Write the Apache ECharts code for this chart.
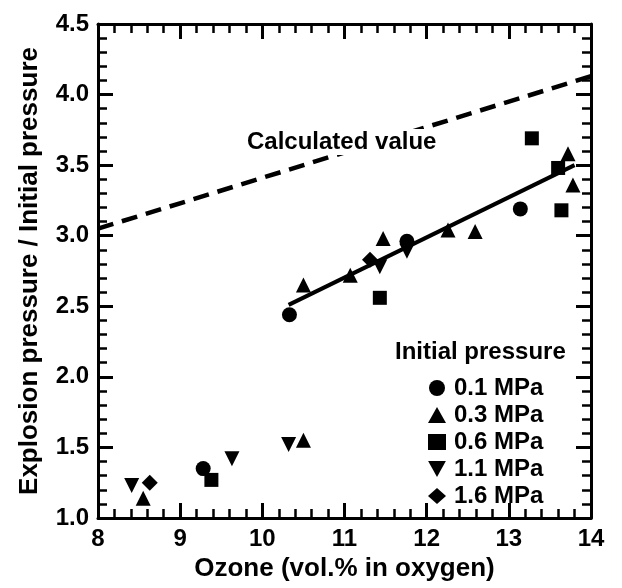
<!DOCTYPE html>
<html>
<head>
<meta charset="utf-8">
<script src="https://cdn.jsdelivr.net/npm/echarts@6/dist/echarts.min.js"></script>
<style>html,body{margin:0;padding:0;background:#fff}.chart{width:622px;height:588px;float:left}</style>
</head>
<body>
<div class="chart" id="chart0"></div>
<script>
// ---- data ----
var xTicks = [8, 9, 10, 11, 12, 13, 14];
var yTicks = ['1.0', '1.5', '2.0', '2.5', '3.0', '3.5', '4.0', '4.5'];
var seriesNames = ['0.1 MPa', '0.3 MPa', '0.6 MPa', '1.1 MPa', '1.6 MPa'];
var p01 = [[9.28, 1.35], [10.33, 2.44], [11.76, 2.96], [13.14, 3.19]];
var p03 = [[8.55, 1.14], [10.50, 1.55], [10.50, 2.65], [11.07, 2.72], [11.47, 2.98], [12.26, 3.04], [12.59, 3.03], [13.72, 3.58], [13.78, 3.36]];
var p06 = [[9.38, 1.27], [11.43, 2.56], [13.28, 3.69], [13.60, 3.48], [13.64, 3.18]];
var p11 = [[8.41, 1.23], [9.63, 1.42], [10.32, 1.52], [11.43, 2.78], [11.76, 2.89]];
var p16 = [[8.63, 1.25], [11.31, 2.83]];
var fitLine = [[10.32, 2.51], [13.80, 3.50]];
var calcLine = [[8.0, 3.05], [14.0, 4.13]];
var calcLabel = 'Calculated value';
var legendTitle = 'Initial pressure';
var xTitle = 'Ozone (vol.% in oxygen)';
var yTitle = 'Explosion pressure / Initial pressure';

var FONT = '"Liberation Sans", Arial, sans-serif';
var downTri = 'path://M0,0 L10,0 L5,9 Z';
var symbols = ['circle', 'triangle', 'rect', downTri, 'diamond'];
var sizes = [15, 15, 14, 15, 16];
var dataSets = [p01, p03, p06, p11, p16];

function axisCommon(isX, show, pos) {
  var o = {
    type: 'value', position: pos,
    min: isX ? 8 : 1, max: isX ? 14 : 4.5, interval: isX ? 1 : 0.5,
    axisLine: {show: true, onZero: false, lineStyle: {color: '#000', width: 3}},
    axisTick: {show: true, inside: true, length: 15, lineStyle: {color: '#000', width: 3}},
    minorTick: {show: true, splitNumber: 5, length: 9, lineStyle: {color: '#000', width: 2.5}},
    splitLine: {show: false},
    axisLabel: {show: show, margin: 9, color: '#000', fontSize: 24, fontWeight: 'bold', fontFamily: FONT}
  };
  if (show) {
    o.axisLabel.formatter = function (v) { return isX ? String(xTicks[Math.round(v - 8)]) : yTicks[Math.round((v - 1) / 0.5)]; };
  }
  return o;
}
var xb = axisCommon(true, true, 'bottom');
xb.name = xTitle; xb.nameLocation = 'middle'; xb.nameGap = 36;
xb.nameTextStyle = {color: '#000', fontSize: 26, fontWeight: 'bold', fontFamily: FONT};
var xt = axisCommon(true, false, 'top');
var yl = axisCommon(false, true, 'left');
yl.name = yTitle; yl.nameLocation = 'middle'; yl.nameGap = 55;
yl.nameTextStyle = {color: '#000', fontSize: 26, fontWeight: 'bold', fontFamily: FONT};
var yr = axisCommon(false, false, 'right');

var series = [];
for (var i = 0; i < seriesNames.length; i++) {
  series.push({
    name: seriesNames[i], type: 'scatter',
    symbol: symbols[i], symbolSize: sizes[i],
    itemStyle: {color: '#000', opacity: 1},
    data: dataSets[i]
  });
}
series.push({type: 'line', data: fitLine, symbol: 'none', lineStyle: {color: '#000', width: 4}});
series.push({type: 'line', data: calcLine, symbol: 'none', lineStyle: {color: '#000', width: 4.5, type: [16, 9]}});

var chart = echarts.init(document.getElementById('chart0'), null, {renderer: 'canvas'});
chart.setOption({
  animation: false,
  grid: {left: 98, right: 31, top: 24, bottom: 70},
  xAxis: [xb, xt],
  yAxis: [yl, yr],
  legend: {
    data: seriesNames.map(function (n, i) { return {name: n, icon: symbols[i]}; }),
    orient: 'vertical', left: 423, top: 371,
    itemWidth: 18, itemHeight: 16, itemGap: 3,
    itemStyle: {opacity: 1},
    textStyle: {color: '#000', fontSize: 24, fontWeight: 'bold', fontFamily: FONT, lineHeight: 24, padding: [0, 0, 0, 3]}
  },
  graphic: [
    {type: 'text', left: 395, top: 340, z: 10, style: {text: legendTitle, fill: '#000', fontSize: 24, fontWeight: 'bold', fontFamily: FONT}},
    {type: 'text', left: 244, top: 129, z: 10, style: {text: calcLabel, fill: '#000', fontSize: 24, fontWeight: 'bold', fontFamily: FONT, backgroundColor: '#fff', padding: [1, 3]}}
  ],
  series: series
});
</script>
</body>
</html>
